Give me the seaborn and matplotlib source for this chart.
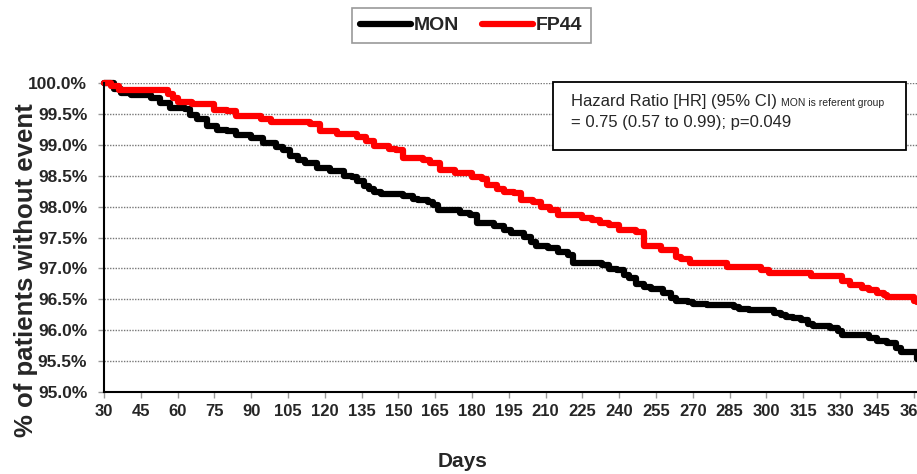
import pandas as pd
import seaborn as sns
import matplotlib.pyplot as plt
import matplotlib.ticker as ticker
from matplotlib.patches import Rectangle

# event-free survival (days, % without event)
mon_days = [30, 34, 37, 41, 49, 53, 57, 63, 65, 68, 72, 76, 80, 84, 90, 95, 100, 103, 106, 109,
            112, 117, 122, 128, 131, 133, 136, 138, 140, 143, 152, 156, 158, 162, 164, 166, 171, 175, 179, 182,
            189, 193, 196, 201, 204, 206, 211, 215, 219, 221, 233, 236, 239, 242, 244, 247, 250, 253, 258, 261,
            263, 268, 270, 276, 287, 289, 293, 303, 306, 308, 311, 314, 317, 319, 326, 329, 331, 342, 345, 349,
            353, 355, 359, 361.5]
mon_vals = [100.0, 99.9, 99.84, 99.80, 99.76, 99.68, 99.60, 99.58, 99.49, 99.42,
            99.30, 99.24, 99.22, 99.16, 99.11, 99.03, 98.97, 98.92, 98.82, 98.76,
            98.71, 98.62, 98.57, 98.50, 98.48, 98.41, 98.33, 98.28, 98.24, 98.20,
            98.17, 98.13, 98.10, 98.08, 98.03, 97.95, 97.94, 97.90, 97.86, 97.73,
            97.69, 97.62, 97.57, 97.51, 97.43, 97.36, 97.33, 97.27, 97.22, 97.08,
            97.06, 96.99, 96.97, 96.89, 96.84, 96.74, 96.70, 96.66, 96.60, 96.52,
            96.48, 96.46, 96.43, 96.41, 96.37, 96.34, 96.32, 96.28, 96.25, 96.21,
            96.19, 96.17, 96.10, 96.06, 96.03, 95.98, 95.92, 95.87, 95.82, 95.79,
            95.71, 95.65, 95.64, 95.54]

fp_days = [30, 33, 36, 56, 58, 60, 66, 75, 80, 84, 94, 98, 114, 118, 125, 133, 137, 140, 146, 149,
           152, 160, 163, 167, 173, 180, 184, 186, 190, 193, 197, 200, 205, 208, 212, 215, 225, 229, 232, 236,
           240, 247, 250, 257, 263, 265, 269, 284, 298, 301, 318, 331, 334, 339, 342, 345, 348, 349, 360, 361.5]
fp_vals = [100.0, 99.95, 99.88, 99.83, 99.76, 99.69, 99.66, 99.57, 99.55, 99.47,
           99.42, 99.37, 99.33, 99.23, 99.17, 99.12, 99.06, 98.98, 98.94, 98.92,
           98.78, 98.75, 98.70, 98.60, 98.54, 98.48, 98.44, 98.35, 98.29, 98.24,
           98.22, 98.11, 98.08, 98.00, 97.95, 97.86, 97.81, 97.78, 97.73, 97.70,
           97.62, 97.59, 97.36, 97.30, 97.19, 97.16, 97.08, 97.03, 96.97, 96.92,
           96.87, 96.79, 96.73, 96.68, 96.65, 96.60, 96.57, 96.53, 96.48, 96.46]

groups = ["MON", "FP44"]
colors = {"MON": "black", "FP44": "#ff0000"}
x_ticks = list(range(30, 361, 15))
hr_text = "Hazard Ratio [HR] (95% CI)"
hr_note = "MON is referent group"
hr_line2 = "= 0.75 (0.57 to 0.99); p=0.049"

df = pd.concat([
    pd.DataFrame({"Days": mon_days, "pct": mon_vals, "group": "MON"}),
    pd.DataFrame({"Days": fp_days, "pct": fp_vals, "group": "FP44"}),
])

sns.set_style("white")
plt.rcParams["font.family"] = ["Liberation Sans", "DejaVu Sans"]

fig = plt.figure(figsize=(9.17, 4.74), dpi=100)
ax = fig.add_axes([104 / 917, 1 - 392 / 474, 813 / 917, 309 / 474])

sns.lineplot(data=df, x="Days", y="pct", hue="group", hue_order=groups, palette=colors,
             drawstyle="steps-post", linewidth=4.5, estimator=None, ax=ax, clip_on=False)

ax.set_xlim(30, 361.4)
ax.set_ylim(95, 100)
ax.set_xticks(x_ticks)
ax.yaxis.set_major_locator(ticker.MultipleLocator(0.5))
ax.yaxis.set_major_formatter(ticker.FuncFormatter(lambda v, p: f"{v:.1f}%"))
ax.yaxis.grid(True, linestyle=(0, (1, 1)), color="#777777", linewidth=1)
ax.xaxis.grid(False)
ax.set_axisbelow(True)

for side in ["top", "right"]:
    ax.spines[side].set_visible(False)
for side in ["left", "bottom"]:
    ax.spines[side].set_color("black")
    ax.spines[side].set_linewidth(1.5)

ax.tick_params(axis="x", bottom=True, length=4, width=1, color="#999999", pad=5,
               labelsize=12)
ax.tick_params(axis="y", left=True, length=4, width=1, color="#999999", pad=8,
               labelsize=12.5)
for lab in ax.get_xticklabels() + ax.get_yticklabels():
    lab.set_fontweight("bold")

ax.set_xlabel("Days", fontsize=15, fontweight="bold")
ax.set_ylabel("% of patients without event", fontsize=18.5, fontweight="bold")
ax.xaxis.set_label_coords((463 - 104) / 813, (392 - 452) / 309)
ax.yaxis.set_label_coords((38 - 104) / 813, (392 - 270) / 309)

# legend at the top of the figure
sns.move_legend(ax, "center", bbox_to_anchor=(0.514, 0.946), bbox_transform=fig.transFigure,
                ncol=2, title=None, frameon=True, fancybox=False, edgecolor="#808080",
                prop={"weight": "bold", "size": 14}, handlelength=2.6, handletextpad=0.15,
                columnspacing=1.2, borderpad=0.45)
leg = ax.get_legend()
leg.get_frame().set_linewidth(1.2)
for h in leg.get_lines():
    h.set_linewidth(4.5)

# hazard ratio box
ax.add_patch(Rectangle(((553 - 104) / 813, (392 - 150) / 309), (906 - 553) / 813, 68 / 309,
                       transform=ax.transAxes, facecolor="white", edgecolor="black",
                       linewidth=1.3, zorder=5, clip_on=False))
y1 = (392 - 106) / 309
t1 = ax.text((571 - 104) / 813, y1, hr_text, transform=ax.transAxes, fontsize=12,
             va="baseline", ha="left", zorder=6)
ax.annotate(hr_note, xy=(1, y1), xycoords=(t1, "axes fraction"), xytext=(3, 0),
            textcoords="offset points", fontsize=7.5, va="baseline", ha="left", zorder=6)
ax.text((571 - 104) / 813, (392 - 127) / 309, hr_line2, transform=ax.transAxes, fontsize=12,
        va="baseline", ha="left", zorder=6)

fig.savefig("out.png", dpi=100)
